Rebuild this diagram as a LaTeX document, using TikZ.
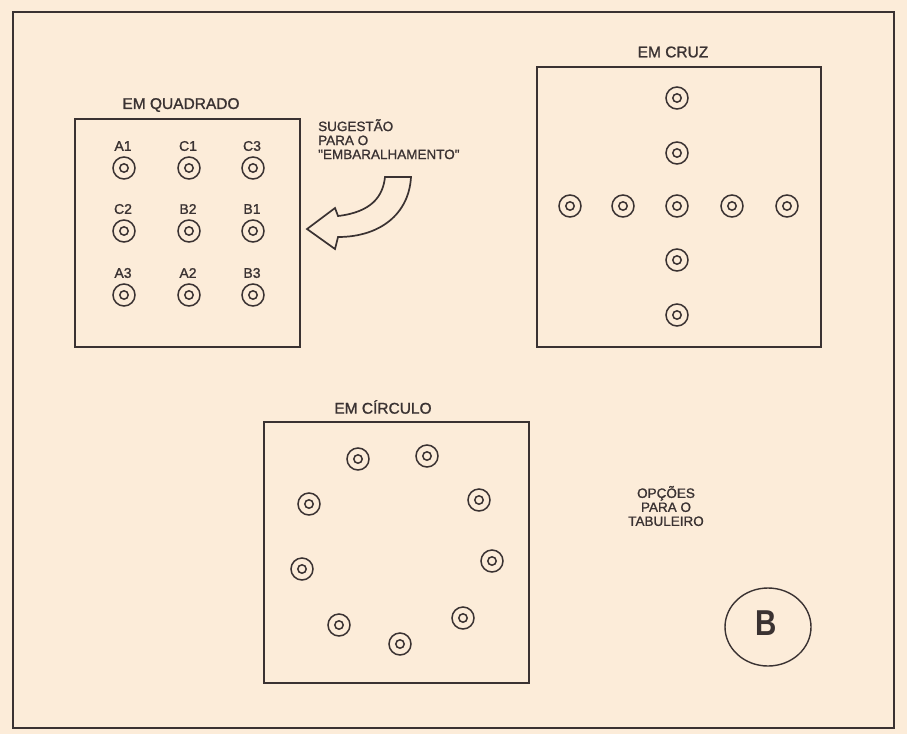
\documentclass[tikz,border=0pt]{standalone}
\usepackage{fontspec}
\usetikzlibrary{shapes.geometric}
\setmainfont{Liberation Sans}
\newfontfamily\medfont[FakeBold=1.2]{Liberation Sans}
\definecolor{paper}{RGB}{252,236,217}
\definecolor{ink}{RGB}{58,50,50}
\begin{document}
\begin{tikzpicture}[x=1pt,y=-1pt,
  line/.style={draw=ink,line width=1.8pt},
  hole/.style={circle,draw=ink,line width=1.5pt,minimum size=22pt,inner sep=0pt,
    path picture={\draw[ink,line width=1.5pt] (path picture bounding box.center) circle (4.2pt);}},
  title/.style={text=ink,font=\medfont\fontsize{15.5}{16}\selectfont,inner sep=0pt},
  lab/.style={text=ink,font=\medfont\fontsize{14}{14}\selectfont,inner sep=0pt},
  note/.style={text=ink,font=\medfont\fontsize{13.5}{14}\selectfont,inner sep=0pt,align=left},
  note2/.style={text=ink,font=\medfont\fontsize{13.5}{14}\selectfont,inner sep=0pt,align=center}]
\fill[paper] (0,0) rectangle (907,734);
\useasboundingbox (0,0) rectangle (907,734);
% outer frame
\draw[line] (13,12) rectangle (894,728);
% --- square board
\node[title] (tq) at (181,105) {EM QUADRADO};
\draw[line] (75,119) rectangle (300,347);
\foreach \n/\lx/\ly/\t in {a1/123/146/A1, c1/188/146/C1, c3/252/146/C3,
                           c2/123/209/C2, b2/188/209/B2, b1/252/209/B1,
                           a3/123/273/A3, a2/188/273/A2, b3/252/273/B3}{
  \node[lab] (l\n) at (\lx,\ly) {\t};
  \node[hole] (h\n) at (\lx+1,\ly+22) {};
}
% note and arrow
\node[note,anchor=north west] (sug) at (318,119) {SUGESTÃO\\PARA O\\"EMBARALHAMENTO"};
\coordinate (tip) at (307,229);
\draw[line,line width=1.7pt,fill=paper,line join=miter]
  (tip) -- (335,208) -- (338,216)
  .. controls (372,212) and (383,196) .. (385,177)
  -- (411,177)
  .. controls (409,214) and (380,237) .. (338,237)
  -- (335,249) -- cycle;
% --- cross board
\node[title] (tc) at (673,52) {EM CRUZ};
\draw[line] (537,67) rectangle (821,347);
\foreach \n/\x/\y in {v1/677/98, v2/677/153, v4/677/260, v5/677/315,
                      h1/570/206, h2/623/206, h3/677/206, h4/732/206, h5/787/206}{
  \node[hole] (x\n) at (\x,\y) {};
}
% --- circle board
\node[title] (tk) at (383,407) {EM CÍRCULO};
\draw[line] (264,422) rectangle (529,683);
\foreach \n/\x/\y in {1/358/459, 2/427/456, 3/479/500, 4/492/561, 5/463/618,
                      6/400/644, 7/339/625, 8/302/569, 9/309/504}{
  \node[hole] (k\n) at (\x,\y) {};
}
% --- legend
\node[note2] (op) at (666,506) {OPÇÕES\\PARA O\\TABULEIRO};
\node[draw=ink,line width=1.4pt,ellipse,minimum width=86pt,minimum height=78pt,inner sep=0pt] (bb) at (768,627) {};
\node[text=ink,inner sep=0pt,xscale=0.82,font=\fontsize{36}{36}\selectfont\bfseries] (bl) at (766,623) {B};
\end{tikzpicture}
\end{document}
